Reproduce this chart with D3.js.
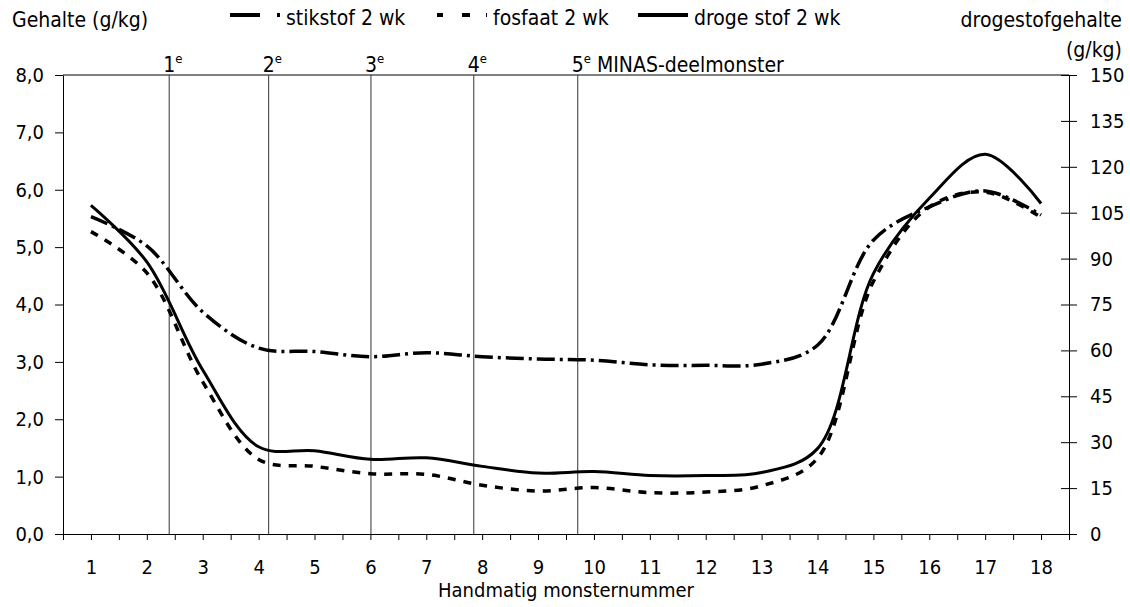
<!DOCTYPE html>
<html>
<head>
<meta charset="utf-8">
<script src="https://cdn.jsdelivr.net/npm/d3@7"></script>
<style>
  body { margin: 0; background: #fff; }
  svg text { font-family: "Liberation Sans Narrow", "DejaVu Sans Condensed", sans-serif; fill: #000; }
  .axis path, .axis line { stroke: #000; stroke-width: 1; }
</style>
</head>
<body>
<div id="chartDiv"></div>
<script>
// Sample numbers on the x axis
var samples = [1, 2, 3, 4, 5, 6, 7, 8, 9, 10, 11, 12, 13, 14, 15, 16, 17, 18];

// Contents in g/kg (left axis)
var stikstof = [5.53, 5.02, 3.87, 3.24, 3.18, 3.09, 3.16, 3.09, 3.05, 3.03, 2.95, 2.94, 2.96, 3.29, 5.12, 5.70, 5.98, 5.56];
var fosfaat = [5.27, 4.55, 2.65, 1.30, 1.18, 1.05, 1.04, 0.85, 0.75, 0.81, 0.72, 0.73, 0.84, 1.32, 4.40, 5.70, 5.96, 5.52];

// Dry matter content in g/kg (right axis)
var drogeStof = [107.4, 88.9, 53.6, 28.5, 27.2, 24.4, 24.9, 22.1, 19.9, 20.4, 19.1, 19.1, 20.1, 27.9, 85.1, 109.7, 124.1, 108.0];

// MINAS sub samples, as position on the sample axis
var minasPos = [2.40, 4.18, 6.01, 7.85, 9.71];
var minasLabels = ['1', '2', '3', '4', '5'];

// Axis ticks
var leftTicks = [0, 1, 2, 3, 4, 5, 6, 7, 8];
var rightTicks = [0, 15, 30, 45, 60, 75, 90, 105, 120, 135, 150];

// Legend
var legendNames = ['stikstof 2 wk', 'fosfaat 2 wk', 'droge stof 2 wk'];

var svgWidth = 1130;
var svgHeight = 607;
// note: "top" is taken by window.top, so plot edges get their own names
var plotLeft = 63, plotRight = 1069, plotTop = 75, plotBottom = 534;

var svg = d3.select('#chartDiv')
            .append('svg')
            .attr('width', svgWidth)
            .attr('height', svgHeight);

// Scales
var x = d3.scaleLinear().domain([0.5, 18.5]).range([plotLeft, plotRight]);
var yLeft = d3.scaleLinear().domain([0, 8]).range([plotBottom, plotTop]);
var yRight = d3.scaleLinear().domain([0, 150]).range([plotBottom, plotTop]);

// Top frame line
svg.append('line')
   .attr('x1', plotLeft).attr('x2', plotRight)
   .attr('y1', plotTop).attr('y2', plotTop)
   .attr('stroke', '#000');

// Vertical lines for the MINAS sub samples
svg.selectAll('.minas')
   .data(minasPos)
   .enter()
   .append('line')
   .attr('class', 'minas')
   .attr('x1', function(d) { return x(d); })
   .attr('x2', function(d) { return x(d); })
   .attr('y1', plotTop)
   .attr('y2', plotBottom)
   .attr('stroke', '#333')
   .attr('stroke-width', 1);

// Labels above the vertical lines
var minasText = svg.selectAll('.minasLabel')
   .data(minasPos)
   .enter()
   .append('text')
   .attr('class', 'minasLabel')
   .attr('x', function(d) { return x(d) - 6; })
   .attr('y', 72)
   .attr('font-size', 21);
minasText.append('tspan').text(function(d, i) { return minasLabels[i]; });
minasText.append('tspan').attr('font-size', 13).attr('dy', -9).text('e');
minasText.filter(function(d, i) { return i === minasPos.length - 1; })
   .append('tspan').attr('dy', 9).text(' MINAS-deelmonster');

// Bottom axis, ticks on every half sample
var xAxis = d3.axisBottom(x)
              .tickValues(d3.range(0.5, 18.51, 0.5))
              .tickFormat(function(d) { return Number.isInteger(d) ? d : ''; })
              .tickSize(6)
              .tickPadding(20)
              .tickSizeOuter(0);
svg.append('g')
   .attr('class', 'axis')
   .attr('transform', 'translate(0,' + plotBottom + ')')
   .call(xAxis)
   .selectAll('text')
   .attr('font-size', 20);

// Left axis
var leftAxis = d3.axisLeft(yLeft)
                 .tickValues(leftTicks)
                 .tickFormat(function(d) { return d3.format('.1f')(d).replace('.', ','); })
                 .tickSize(8)
                 .tickPadding(11)
                 .tickSizeOuter(0);
svg.append('g')
   .attr('class', 'axis')
   .attr('transform', 'translate(' + plotLeft + ',0)')
   .call(leftAxis)
   .selectAll('text')
   .attr('font-size', 20);

// Right axis, ticks cross the axis line
var rightAxis = d3.axisRight(yRight)
                  .tickValues(rightTicks)
                  .tickSize(8)
                  .tickPadding(13)
                  .tickSizeOuter(0);
var rAxis = svg.append('g')
   .attr('class', 'axis')
   .attr('transform', 'translate(' + plotRight + ',0)')
   .call(rightAxis);
rAxis.selectAll('.tick line').attr('x1', -8);
rAxis.selectAll('text').attr('font-size', 20);

// Lines
var leftLine = d3.line()
                 .x(function(d, i) { return x(samples[i]); })
                 .y(function(d) { return yLeft(d); })
                 .curve(d3.curveCatmullRom);
var rightLine = d3.line()
                  .x(function(d, i) { return x(samples[i]); })
                  .y(function(d) { return yRight(d); })
                  .curve(d3.curveCatmullRom);

svg.append('path')
   .attr('d', leftLine(stikstof))
   .attr('fill', 'none')
   .attr('stroke', '#000')
   .attr('stroke-width', 3.5)
   .attr('stroke-dasharray', '18,5,3,5');

svg.append('path')
   .attr('d', leftLine(fosfaat))
   .attr('fill', 'none')
   .attr('stroke', '#000')
   .attr('stroke-width', 3.5)
   .attr('stroke-dasharray', '8,8');

svg.append('path')
   .attr('d', rightLine(drogeStof))
   .attr('fill', 'none')
   .attr('stroke', '#000')
   .attr('stroke-width', 3);

// Axis titles
svg.append('text').attr('x', 12).attr('y', 27).attr('font-size', 21).text('Gehalte (g/kg)');
svg.append('text').attr('x', 1122).attr('y', 27).attr('font-size', 21).attr('text-anchor', 'end').text('drogestofgehalte');
svg.append('text').attr('x', 1122).attr('y', 57).attr('font-size', 21).attr('text-anchor', 'end').text('(g/kg)');
svg.append('text').attr('x', (plotLeft + plotRight) / 2).attr('y', 597).attr('font-size', 20).attr('text-anchor', 'middle').text('Handmatig monsternummer');

// Legend symbols and names
var legendX = [230, 437, 638];
var legendDash = ['30,17,3,100', '6,19,8,16,2,100', null];
legendNames.forEach(function(name, i) {
    svg.append('line')
       .attr('x1', legendX[i]).attr('x2', legendX[i] + 50)
       .attr('y1', 15).attr('y2', 15)
       .attr('stroke', '#000')
       .attr('stroke-width', 4)
       .attr('stroke-dasharray', legendDash[i]);
    svg.append('text')
       .attr('x', legendX[i] + 56)
       .attr('y', 25)
       .attr('font-size', 21)
       .text(name);
});
</script>
</body>
</html>
